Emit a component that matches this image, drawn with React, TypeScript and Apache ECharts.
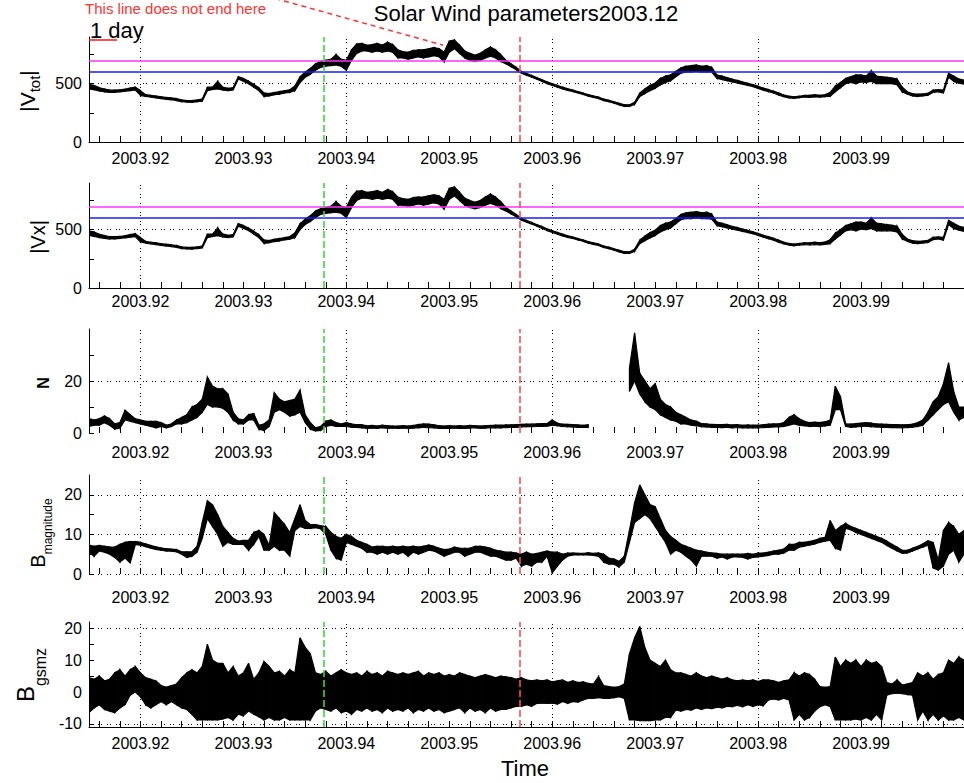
import React, { useEffect, useRef } from "react";
import * as echarts from "echarts";

// ---------- time axis ----------
const T0 = 2003.915;
const STEP = 0.0005;
const X_MIN = 2003.915;
const X_MAX = 2004.0;
const X_LABELS = [2003.92, 2003.93, 2003.94, 2003.95, 2003.96, 2003.97, 2003.98, 2003.99];
const X_TICKS = [
  2003.916, 2003.918, 2003.92, 2003.922, 2003.924, 2003.926, 2003.928, 2003.93, 2003.932, 2003.934,
  2003.936, 2003.938, 2003.94, 2003.942, 2003.944, 2003.946, 2003.948, 2003.95, 2003.952, 2003.954,
  2003.956, 2003.958, 2003.96, 2003.962, 2003.964, 2003.966, 2003.968, 2003.97, 2003.972, 2003.974,
  2003.976, 2003.978, 2003.98, 2003.982, 2003.984, 2003.986, 2003.988, 2003.99, 2003.992, 2003.994,
  2003.996, 2003.998,
];
const V_GRID_T = [2003.92, 2003.94, 2003.96, 2003.98];
const EVENT_START = 2003.9378;
const EVENT_END = 2003.9568;
const ONE_DAY = 1 / 365.25;
const V_FAST = 700;
const V_SLOW = 600;
const DAY_BAR_V = 875;
const ANNOT_FROM = [2003.9331, 1230];
const ANNOT_TO = [2003.9494, 830];

// ---------- |V_tot| (km/s), low / high envelope per sample ----------
const VTOT_LO = [
  455, 448, 438, 430, 425, 425, 430, 435, 440, 445,
  400, 390, 385, 378, 372, 366, 362, 355, 345, 342,
  340, 345, 350, 440, 450, 455, 445, 440, 445, 540,
  520, 500, 470, 440, 390, 395, 405, 410, 420, 425,
  440, 510, 555, 580, 615, 640, 650, 655, 660, 650,
  615, 700, 760, 780, 780, 770, 780, 770, 780, 770,
  720, 720, 710, 720, 730, 720, 730, 740, 730, 685,
  770, 800, 760, 720, 700, 690, 700, 720, 735, 720,
  690, 670, 645, 620, 590, 572, 555, 538, 520, 500,
  485, 470, 455, 442, 432, 420, 408, 393, 382, 372,
  355, 345, 332, 318, 305, 305, 322, 390, 415, 440,
  460, 490, 510, 525, 560, 590, 600, 600, 605, 600,
  600, 600, 545, 535, 525, 515, 505, 495, 485, 475,
  460, 445, 432, 420, 402, 388, 378, 374, 380, 385,
  383, 386, 384, 388, 392, 430, 465, 500, 510, 500,
  515, 510, 520, 500, 500, 500, 500, 490, 430, 410,
  395, 390, 395, 400, 425, 430, 420, 555, 520, 505,
  495,
];
const VTOT_HI = [
  495, 485, 465, 455, 445, 445, 447, 452, 462, 470,
  440, 405, 400, 395, 388, 382, 378, 372, 360, 355,
  355, 360, 368, 470, 470, 520, 470, 460, 465, 560,
  545, 522, 495, 465, 420, 415, 425, 432, 440, 448,
  480, 560, 600, 630, 670, 690, 700, 710, 750, 710,
  700, 790, 840, 845, 830, 835, 845, 830, 855, 835,
  790, 775, 770, 785, 790, 790, 800, 810, 800, 770,
  865, 875, 830, 780, 760, 745, 760, 790, 815, 790,
  750, 700, 670, 640, 605, 588, 570, 552, 535, 515,
  500, 485, 470, 456, 445, 432, 420, 406, 395, 385,
  368, 358, 345, 332, 320, 318, 340, 420, 455, 485,
  505, 545, 565, 575, 605, 635, 650, 655, 660, 650,
  655, 640, 575, 565, 552, 538, 528, 515, 503, 492,
  478, 462, 450, 436, 420, 402, 392, 387, 393, 400,
  400, 405, 400, 406, 425, 480, 510, 545, 560, 575,
  575, 565, 610, 565, 560, 555, 548, 540, 470, 430,
  415, 410, 412, 418, 445, 448, 445, 590, 565, 540,
  530,
];

// ---------- |Vx| (km/s) ----------
const VX_LO = [
  450, 442, 432, 425, 420, 420, 425, 430, 435, 440,
  395, 385, 378, 372, 365, 360, 355, 348, 338, 335,
  333, 338, 343, 432, 442, 448, 438, 433, 438, 530,
  512, 492, 462, 432, 382, 388, 398, 403, 413, 418,
  432, 500, 545, 570, 605, 630, 640, 645, 650, 640,
  605, 690, 750, 770, 770, 760, 770, 760, 770, 760,
  710, 710, 700, 710, 720, 710, 720, 730, 720, 675,
  760, 790, 750, 710, 690, 680, 690, 710, 725, 710,
  680, 660, 635, 610, 582, 565, 548, 530, 512, 492,
  477, 462, 447, 434, 424, 412, 400, 385, 374, 364,
  347, 337, 324, 310, 297, 297, 314, 380, 405, 430,
  450, 480, 500, 515, 550, 585, 595, 595, 600, 595,
  595, 590, 535, 525, 515, 505, 495, 485, 475, 465,
  450, 435, 422, 410, 392, 378, 368, 362, 368, 372,
  370, 372, 370, 374, 380, 420, 455, 490, 500, 490,
  505, 500, 510, 490, 490, 490, 490, 480, 420, 400,
  385, 380, 385, 390, 415, 420, 410, 545, 510, 495,
  485,
];
const VX_HI = [
  490, 480, 460, 450, 440, 440, 442, 448, 458, 465,
  432, 400, 393, 388, 380, 375, 370, 365, 352, 348,
  348, 352, 360, 462, 462, 515, 462, 452, 458, 552,
  536, 514, 487, 457, 412, 407, 417, 425, 432, 440,
  472, 550, 590, 620, 660, 680, 690, 700, 740, 700,
  690, 780, 830, 835, 820, 825, 835, 820, 845, 825,
  780, 765, 760, 775, 780, 780, 790, 800, 790, 760,
  855, 865, 820, 770, 750, 735, 750, 780, 805, 780,
  740, 690, 660, 630, 597, 580, 562, 544, 527, 507,
  492, 477, 462, 448, 437, 424, 412, 398, 387, 377,
  360, 350, 337, 324, 312, 310, 332, 410, 445, 475,
  495, 535, 555, 565, 595, 630, 645, 650, 655, 645,
  650, 632, 565, 555, 542, 528, 518, 505, 493, 482,
  468, 452, 440, 426, 410, 392, 382, 376, 382, 388,
  388, 392, 388, 394, 415, 470, 500, 535, 550, 565,
  565, 555, 600, 555, 550, 545, 538, 530, 460, 420,
  405, 400, 402, 408, 435, 438, 435, 580, 555, 530,
  520,
];

// ---------- N (cm^-3) ----------
const N_LO = [
  2.5, 3, 3, 4, 3, 1.5, 2, 5, 4.5, 4,
  3.5, 3, 2.5, 2, 2.5, 2, 2.5, 3.5, 3.5, 4,
  5, 6, 8, 11, 10, 10, 9.5, 8, 5, 3.5,
  3.5, 5, 5, 1.5, 1, 2.5, 8, 9, 8, 6.5,
  7, 8, 4, 1.5, 0.8, 1, 2.5, 3, 2.5, 2.5,
  2.5, 2.2, 2.2, 2, 1.8, 1.9, 1.8, 2, 1.8, 1.9,
  1.8, 1.9, 1.8, 1.9, 2, 2.2, 2.1, 2, 1.8, 1.8,
  1.8, 1.9, 1.8, 1.8, 1.9, 2, 1.8, 1.9, 2, 2,
  2, 2.1, 2.2, 2.2, 2.3, 2.4, 2.4, 2.5, 2.5, 2.6,
  3, 2.8, 2.5, 2.4, 2.3, 2.2, 2.2, 2.2, null, null,
  null, null, null, null, null, 16, 20, 15, 12, 10,
  9, 7, 6, 5, 4.5, 3.5, 3.5, 3, 2.8, 2.4,
  2.3, 2.2, 2.2, 2.1, 2.2, 2, 2.1, 2, 2, 2,
  2, 2.1, 2.2, 2.3, 2.3, 2.5, 3, 3.5, 3, 2.8,
  2.5, 2.6, 2.5, 2.7, 3, 9, 9, 2.5, 2.2, 2.3,
  2.5, 2.6, 2.4, 2.3, 2.2, 2.2, 2.1, 2.1, 2, 2.1,
  2.2, 2.5, 3, 5, 7, 9, 11, 12, 8, 5,
  6,
];
const N_HI = [
  5.5, 5, 5.5, 6.5, 5.5, 3.5, 4, 8.8, 7, 5.5,
  5, 4.5, 4.5, 4.5, 4, 3, 3.5, 5, 6, 7,
  10, 11, 13, 21.5, 18, 17, 17, 15, 8, 5.5,
  5, 7, 7.5, 3, 3.5, 5, 15.5, 13, 12, 12.5,
  13, 16.5, 7, 4, 2, 2.5, 4.5, 5, 4, 3.5,
  4, 3.5, 3.2, 3.2, 2.8, 2.9, 2.7, 3, 2.8, 2.7,
  2.7, 2.8, 2.7, 2.9, 3.3, 3.5, 3.4, 3.2, 2.8, 2.7,
  2.8, 2.7, 2.8, 2.7, 2.9, 2.8, 2.7, 2.8, 2.9, 3,
  3, 3.1, 3.1, 3.2, 3.3, 3.4, 3.4, 3.5, 3.6, 3.6,
  5, 3.8, 3.4, 3.3, 3.2, 3.1, 3, 3.2, null, null,
  null, null, null, null, null, 25, 38.5, 23, 20, 17,
  19, 13, 11, 10, 8, 7, 6, 5, 4.5, 3.6,
  3.5, 3.3, 3.2, 3.2, 3.3, 3.1, 3.2, 3, 3.1, 3,
  3, 3.2, 3.4, 3.5, 3.5, 4, 6, 7, 5.5, 4.5,
  4, 4.2, 4, 4.3, 5, 18, 14, 3.5, 3.4, 3.6,
  3.8, 4, 3.8, 3.5, 3.4, 3.3, 3.2, 3.2, 3.1, 3.2,
  3.4, 4, 5, 8, 12, 14, 19, 27, 16, 10,
  10,
];

// ---------- B magnitude (nT) ----------
const BMAG_LO = [
  5.5, 4.5, 5.8, 5.5, 5, 4.2, 3, 4, 2.8, 7.4,
  7.3, 6.9, 6.5, 6.2, 6, 5.8, 5.8, 5.6, 5, 4.2,
  4.5, 5.5, 9, 14, 12, 10, 7, 8, 7.5, 7.5,
  7.5, 6, 7.5, 9.5, 6, 6, 7, 6, 6, 4.5,
  11, 12, 11.5, 11.5, 11.7, 11.4, 10, 6, 4, 3.5,
  8, 7.5, 7, 6.5, 5.5, 5.5, 5, 5.5, 5, 5.5,
  5, 5.5, 4.5, 5.5, 5, 5.5, 6, 5.8, 5.2, 4.5,
  5, 5.5, 5.5, 4.5, 5, 5.5, 5.5, 5, 4.5, 4.5,
  4, 3.5, 3.5, 4, 2, 2.5, 2, 3, 3, 4.5,
  0.3, 2, 3.5, 4.5, 4.8, 4.8, 4.8, 4.8, 4.7, 4.5,
  3, 2.5, 2.5, 1.8, 3, 8, 13, 14, 15, 14,
  12, 10, 8, 5, 6, 5.5, 4.5, 3.5, 2, 4.5,
  4.5, 4.5, 4, 4.3, 3.8, 4.3, 4.3, 4.2, 3.8, 4.2,
  4.3, 4.5, 4.7, 5, 5, 5.3, 6, 6, 6.8, 7,
  7.3, 7.6, 8, 8.3, 8.5, 6.5, 6, 11.5, 11.2, 10.5,
  10, 9.5, 9, 8.5, 8, 7.2, 6.5, 5.8, 5.2, 5.3,
  5.8, 6.3, 6.8, 7.3, 1.5, 1, 2, 5, 6, 3,
  5,
];
const BMAG_HI = [
  7.3, 7, 7.2, 7, 6.8, 6.8, 7.5, 8, 8.2, 8.2,
  8, 7.6, 7.2, 6.9, 6.6, 6.4, 6.3, 6.2, 5.6, 5.6,
  5.6, 7, 13, 18.5, 17.5, 15, 12, 10.5, 9, 8.3,
  8.5, 8.5, 10.5, 11, 10, 7.2, 15.5, 14, 12.5, 10.5,
  14, 17.5, 13.5, 12.5, 12.5, 12.2, 12, 10.5, 9.5, 9,
  10, 9.5, 8.5, 8, 7.5, 6.8, 7, 7, 6.8, 7,
  6.8, 7, 6.8, 7, 6.8, 7, 7.3, 7, 6.5, 6.2,
  6.3, 6.8, 6.5, 6.5, 6.5, 7, 7, 6.8, 6.5, 6,
  5.8, 5.5, 5.5, 5.3, 5, 5.5, 5, 5.2, 5.5, 5.8,
  5.5, 5.5, 5, 5.3, 5.3, 5.2, 5.2, 5.4, 5.2, 5.3,
  5, 4, 3.8, 3.2, 4.5, 11, 18, 22.5, 20, 17.5,
  17, 14, 11, 9.5, 8.5, 7.5, 7, 6.5, 6, 5.8,
  5.5, 5.3, 5.2, 5, 5, 5, 5, 5, 5.2, 5,
  5.3, 5.3, 5.5, 5.8, 6, 6.3, 7.5, 7.5, 8, 8,
  8.2, 8.5, 9, 9.2, 13.5, 11, 12, 12.8, 12, 11.5,
  11, 10.5, 10, 9.5, 9, 8.3, 7.5, 6.8, 6, 6,
  6.5, 7, 7.6, 8.4, 8, 3.5, 11, 13, 12, 10,
  11,
];

// ---------- B gsm z (nT) ----------
const BZ_LO = [
  -6.5, -5, -4, -5.5, -6, -6.5, -5, -4, -1, 0,
  -1.5, -4, -5, -4, -3, -4, -3, -4, -5, -5.5,
  -7, -8.8, -8.8, -8.8, -8.8, -8.8, -8.5, -8, -8.8, -7,
  -7.5, -6, -7, -7.8, -8.8, -8, -8.8, -8.8, -8, -8.8,
  -8.8, -8.8, -8.8, -8.8, -6, -5, -5.5, -6, -5, -6.5,
  -6, -7, -5.5, -6, -5, -6, -5.5, -6.5, -5, -6,
  -5.5, -6, -5, -6.5, -5.5, -6, -5, -6, -5.5, -6.5,
  -6, -5.5, -5, -6.5, -5, -6, -5.5, -6.5, -5, -6,
  -5.5, -5.5, -5, -4.5, -4.5, -4, -4.5, -3.6, -3.5, -3.6,
  -3.5, -3.8, -3, -3.6, -3, -3.2, -2.5, -2, -2, -1.8,
  -2, -2, -1.8, -1.5, -2, -8.8, -8.8, -9, -9, -9,
  -8.8, -8.8, -8, -8, -5.7, -6, -5.5, -5.7, -5, -5.5,
  -5, -5.2, -4.8, -5, -4.5, -4.6, -4.2, -4.6, -4, -4.5,
  -4, -4.3, -2.5, -2.2, -2.5, -2, -2.5, -8.8, -7, -8.8,
  -8, -6, -4.6, -4, -4.6, -8.8, -8.8, -8.8, -8.8, -8.5,
  -8.8, -8, -8.8, -7, -8.8, -1, -0.5, -0.4, -0.5, -0.8,
  -1, -8.8, -6, -8.8, -7, -8.8, -7.5, -8.8, -8.8, -8,
  -8.8,
];
const BZ_HI = [
  4.5, 4, 5, 3.5, 4, 6, 7, 5, 7, 8,
  6, 4.5, 4, 3.5, 2, 1.5, 2, 2.5, 4.5, 6,
  7, 6, 8, 15, 10, 9, 9, 6, 8, 5,
  6, 9, 4, 6, 9.6, 8, 6, 6.5, 5, 7,
  6, 17, 14, 12, 6, 5.5, 6.5, 5, 6, 7,
  6, 5.5, 6, 5, 6.5, 5.5, 6, 5, 6.5, 6,
  5.5, 6, 5.5, 6, 6.5, 5, 6, 5.5, 6, 5,
  5.5, 5, 6, 5.5, 5, 4.5, 5, 5.5, 5, 4.5,
  5, 4.8, 4.5, 4, 4.5, 3.8, 3.5, 3.8, 3.5, 3.8,
  3.2, 3.5, 3.8, 3, 3.5, 3, 3.2, 2.7, 2.5, 4.8,
  2, 1.7, 1.5, 1.7, 2.5, 12, 17, 20.6, 14, 10,
  9, 8, 10, 7, 6, 6, 5.5, 5, 6, 5,
  4.5, 5, 4.5, 4, 4.5, 3.8, 3.5, 3.8, 3.5, 3.8,
  3.3, 3.8, 3.8, 3.5, 3, 3.5, 3.8, 6, 5, 6,
  5.5, 4, 1.7, 1.5, 1.7, 11, 8, 10, 9, 10,
  8, 10, 9, 9.5, 8, 3, 2.5, 3.8, 2.2, 2.5,
  3, 6, 5, 6, 4, 5.5, 6, 10, 9, 11,
  10,
];

// ---------- panel axis values ----------
const P1_Y = { min: 0, max: 900, labels: [0, 500], ticks: [0, 250, 500, 750], dotted: [500] };
const P2_Y = { min: 0, max: 900, labels: [0, 500], ticks: [0, 250, 500, 750], dotted: [500] };
const P3_Y = { min: 0, max: 40, labels: [0, 20], ticks: [0, 10, 20, 30], dotted: [20] };
const P4_Y = { min: 0, max: 25, labels: [0, 10, 20], ticks: [0, 5, 10, 15, 20], dotted: [0, 10, 20] };
const P5_Y = { min: -11, max: 22, labels: [-10, 0, 10, 20], ticks: [-10, -5, 0, 5, 10, 15, 20], dotted: [20, -10] };

const FONT = '"Liberation Sans", Arial, Helvetica, sans-serif';

const PANELS = [
  { lo: VTOT_LO, hi: VTOT_HI, y: P1_Y, top: 37, height: 105, lm: 8, xLine: true, thr: true },
  { lo: VX_LO, hi: VX_HI, y: P2_Y, top: 183, height: 105, lm: 5, xLine: true, thr: true },
  { lo: N_LO, hi: N_HI, y: P3_Y, top: 329, height: 104, lm: 11, xLine: false, thr: false },
  { lo: BMAG_LO, hi: BMAG_HI, y: P4_Y, top: 475, height: 99, lm: 15, xLine: false, thr: false },
  { lo: BZ_LO, hi: BZ_HI, y: P5_Y, top: 622, height: 105, lm: 8, xLine: true, thr: false },
];

const DOT = { color: "#000", width: 1, type: [1, 2, 1, 5] as number[] };

function buildOption() {
  const times = VTOT_LO.map((_, i) => +(T0 + i * STEP).toFixed(5));
  const grid = PANELS.map((p) => ({ left: 89, width: 875, top: p.top, height: p.height }));
  const xAxis = PANELS.map((p, k) => ({
    type: "value",
    gridIndex: k,
    min: X_MIN,
    max: X_MAX,
    axisLine: { show: p.xLine, onZero: false, lineStyle: { color: "#000", width: 1 } },
    axisTick: { show: true, inside: true, length: 6, customValues: X_TICKS, lineStyle: { color: "#000" } },
    axisLabel: {
      show: true,
      customValues: X_LABELS,
      formatter: (v: number) => v.toFixed(2),
      color: "#000",
      fontSize: 16,
      fontFamily: FONT,
      margin: p.lm,
    },
    splitLine: { show: false },
  }));
  const yAxis = PANELS.map((p, k) => ({
    type: "value",
    gridIndex: k,
    min: p.y.min,
    max: p.y.max,
    axisLine: { show: true, onZero: false, lineStyle: { color: "#000", width: 1 } },
    axisTick: { show: true, inside: true, length: 5, customValues: p.y.ticks, lineStyle: { color: "#000" } },
    axisLabel: { show: true, customValues: p.y.labels, color: "#000", fontSize: 16, fontFamily: FONT, margin: 7 },
    splitLine: { show: false },
  }));

  const series: any[] = [];
  PANELS.forEach((p, k) => {
    // envelope segments between consecutive samples: [t0, lo0, hi0, t1, lo1, hi1]
    const segs: number[][] = [];
    for (let i = 0; i < times.length - 1; i++) {
      const a = p.lo[i], b = p.hi[i], c = p.lo[i + 1], d = p.hi[i + 1];
      if (a == null || b == null || c == null || d == null) continue;
      segs.push([times[i], a as number, b as number, times[i + 1], c as number, d as number]);
    }
    const dotted = [
      ...p.y.dotted.map((v) => ({ yAxis: v })),
      ...V_GRID_T.map((t) => ({ xAxis: t })),
    ];
    series.push({
      type: "custom",
      xAxisIndex: k,
      yAxisIndex: k,
      data: segs,
      clip: true,
      silent: true,
      z: 2,
      encode: { x: [0, 3], y: [1, 2, 4, 5] },
      renderItem: (_params: any, api: any) => {
        const p0l = api.coord([api.value(0), api.value(1)]);
        const p0h = api.coord([api.value(0), api.value(2)]);
        const p1l = api.coord([api.value(3), api.value(4)]);
        const p1h = api.coord([api.value(3), api.value(5)]);
        return {
          type: "polygon",
          shape: { points: [p0l, p1l, p1h, p0h] },
          style: { fill: "#000", stroke: "#000", lineWidth: 1.2 },
        };
      },
    });
    const marks: any[] = [];
    if (p.thr) {
      marks.push({ yAxis: V_FAST, lineStyle: { color: "#ff33ff", width: 1.6, type: "solid" } });
      marks.push({ yAxis: V_SLOW, lineStyle: { color: "#1a1aff", width: 1.6, type: "solid" } });
    }
    marks.push({ xAxis: EVENT_START, lineStyle: { color: "#33dd33", width: 1.6, type: [7, 3] } });
    marks.push({ xAxis: EVENT_END, lineStyle: { color: "#ff4d4d", width: 1.6, type: [7, 3] } });
    if (k === 0) {
      marks.push([
        { coord: [X_MIN, DAY_BAR_V], lineStyle: { color: "#ff2222", width: 1.6, type: "solid" } },
        { coord: [X_MIN + ONE_DAY, DAY_BAR_V] },
      ]);
    }
    series.push({
      type: "line",
      xAxisIndex: k,
      yAxisIndex: k,
      data: [[X_MIN, null]],
      symbol: "none",
      showSymbol: false,
      lineStyle: { width: 0 },
      emphasis: { disabled: true },
      markLine: {
        silent: true,
        z: 1,
        precision: 6,
        symbol: ["none", "none"],
        label: { show: false },
        lineStyle: DOT,
        emphasis: { disabled: true },
        data: dotted,
      },
    });
    series.push({
      type: "line",
      xAxisIndex: k,
      yAxisIndex: k,
      data: [[X_MIN, null]],
      symbol: "none",
      showSymbol: false,
      lineStyle: { width: 0 },
      emphasis: { disabled: true },
      markLine: {
        silent: true,
        z: 6,
        precision: 6,
        symbol: ["none", "none"],
        label: { show: false },
        emphasis: { disabled: true },
        data: marks,
      },
    });
  });

  return {
    animation: false,
    backgroundColor: "#fff",
    grid,
    xAxis,
    yAxis,
    series,
  };
}

function nameText(x: number, y: number, text: string, rich: any) {
  return {
    type: "text",
    x,
    y,
    rotation: Math.PI / 2,
    silent: true,
    style: { text, rich, align: "center", verticalAlign: "middle", fontFamily: FONT, fill: "#000" },
  };
}

function buildGraphic(a: number[], b: number[]) {
  return [
    {
      type: "text",
      x: 526,
      y: 13,
      silent: true,
      style: {
        text: "Solar Wind parameters2003.12",
        fontSize: 22,
        fontFamily: FONT,
        fill: "#000",
        align: "center",
        verticalAlign: "middle",
      },
    },
    {
      type: "text",
      x: 266,
      y: 8,
      silent: true,
      style: {
        text: "This line does not end here",
        fontSize: 15,
        fontFamily: FONT,
        fill: "#ff3333",
        align: "right",
        verticalAlign: "middle",
      },
    },
    {
      type: "line",
      silent: true,
      shape: { x1: a[0], y1: a[1], x2: b[0], y2: b[1] },
      style: { stroke: "#ff3333", lineWidth: 1.5, lineDash: [5, 4] },
      z: 10,
    },
    {
      type: "text",
      x: 90,
      y: 30,
      silent: true,
      style: { text: "1 day", fontSize: 22, fontFamily: FONT, fill: "#000", align: "left", verticalAlign: "middle" },
    },
    {
      type: "text",
      x: 525,
      y: 768,
      silent: true,
      style: { text: "Time", fontSize: 22, fontFamily: FONT, fill: "#000", align: "center", verticalAlign: "middle" },
    },
    nameText(27, 91, "{m||V}{s|tot}{m||}", {
      m: { fontSize: 21, fontFamily: FONT, fill: "#000", lineHeight: 30 },
      s: { fontSize: 15, fontFamily: FONT, fill: "#000", lineHeight: 14, verticalAlign: "bottom" },
    }),
    nameText(38, 237, "{m||Vx|}", {
      m: { fontSize: 20, fontFamily: FONT, fill: "#000", lineHeight: 24 },
    }),
    nameText(43, 383, "{m|N}", {
      m: { fontSize: 16, fontWeight: "bold", fontFamily: FONT, fill: "#000", lineHeight: 20 },
    }),
    nameText(38, 533, "{m|B}{s|magnitude}", {
      m: { fontSize: 20, fontFamily: FONT, fill: "#000", lineHeight: 32 },
      s: { fontSize: 12, fontFamily: FONT, fill: "#000", lineHeight: 12, verticalAlign: "bottom" },
    }),
    nameText(25, 675, "{m|B}{s|gsmz}", {
      m: { fontSize: 24, fontFamily: FONT, fill: "#000", lineHeight: 46 },
      s: { fontSize: 16, fontFamily: FONT, fill: "#000", lineHeight: 16, verticalAlign: "bottom" },
    }),
  ];
}

export default function App() {
  const ref = useRef<HTMLDivElement>(null);
  useEffect(() => {
    if (!ref.current) return;
    const chart = echarts.init(ref.current, null, { renderer: "svg" });
    chart.setOption(buildOption() as any);
    const a = chart.convertToPixel({ gridIndex: 0 } as any, ANNOT_FROM) as number[];
    const b = chart.convertToPixel({ gridIndex: 0 } as any, ANNOT_TO) as number[];
    chart.setOption({ graphic: buildGraphic(a, b) } as any);
    return () => chart.dispose();
  }, []);
  return (
    <div
      ref={ref}
      style={{ position: "fixed", left: 0, top: 0, width: 964, height: 783, background: "#fff" }}
    />
  );
}
